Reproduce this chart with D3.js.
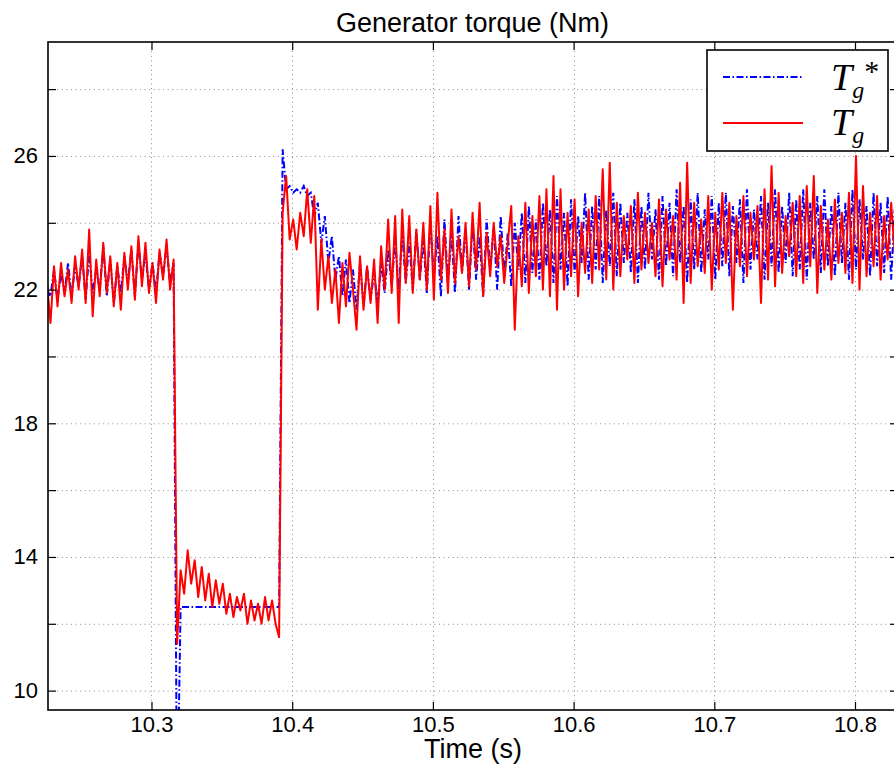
<!DOCTYPE html>
<html><head><meta charset="utf-8">
<script src="https://cdn.jsdelivr.net/npm/d3@7"></script>
<style>body{margin:0;background:#fff} svg{display:block}</style>
</head><body>
<script>
// sampling of the recorded signals
const t0 = 10.2257, dt = 0.0025;

// T_g* (reference torque)
const torqueRef = [
22.0,21.8,22.6,21.7,22.5,21.9,22.8,21.8,22.7,22.1,23.0,21.7,23.1,21.9,22.6,22.0,23.3,21.8,22.9,21.6,
22.7,21.9,23.0,22.2,23.2,21.8,23.4,22.3,23.1,22.0,22.8,21.9,23.1,22.4,23.3,22.2,22.8,
6.0,
12.5,12.5,12.5,12.5,12.5,12.5,12.5,12.5,12.5,12.5,12.5,12.5,12.5,12.5,12.5,12.5,12.5,12.5,12.5,12.5,
12.5,12.5,12.5,12.5,12.5,12.5,12.5,12.5,12.5,
26.2,25.0,25.1,24.9,25.0,24.9,25.1,24.8,24.9,24.2,
24.6,23.4,24.2,22.8,23.6,22.3,23.0,21.8,22.9,21.6,22.6,21.4,22.8,21.5,22.7,21.7,22.5,21.6,22.8,21.9,
23.2,22.1,23.5,22.0,23.7,22.2,23.4,22.0,23.8,22.3,23.5,21.9,24.0,22.4,23.6,21.8,24.1,22.2,23.7,21.9,
24.2,22.5,23.8,22.0,24.0,22.3,23.6,21.8,24.1,22.6,23.9,22.0,24.2,22.4,23.7,22.1,24.0,22.6,24.3,22.2,
24.5,22.5,24.1,22.3,24.6,22.7,24.4,22.2,24.8,22.6,24.3,22.1,24.7,22.5,24.2,22.8,24.9,22.3,24.5,22.6,
24.8,22.2,24.4,22.7,24.9,22.4,24.6,22.8,24.3,22.5,24.7,22.2,24.5,22.6,24.9,22.9,24.4,22.3,24.8,22.7,
24.6,22.4,25.0,22.8,24.5,22.2,24.7,22.6,24.9,22.5,24.4,22.9,24.8,22.3,24.6,22.7,24.9,22.4,24.5,22.8,
24.7,22.2,25.0,22.6,24.4,22.9,24.8,22.3,24.6,22.7,25.0,22.5,24.5,22.8,24.9,22.4,24.7,22.6,25.0,22.3,
24.6,22.9,24.8,22.5,25.0,22.7,24.5,22.4,24.9,22.8,24.6,22.3,25.0,22.6,24.7,22.9,24.5,22.4,24.9,22.7,
24.6,22.5,24.8,22.3,24.4
];

// T_g (generator torque)
const torqueGen = [
22.2,21.0,22.7,21.5,22.8,21.8,22.6,21.6,23.0,22.0,23.2,21.6,23.8,21.2,22.9,21.8,23.4,21.9,23.0,21.5,
22.8,21.4,23.1,22.0,23.3,21.7,23.6,22.1,23.4,21.9,22.8,21.6,23.2,22.3,23.5,22.0,22.9,
11.4,
13.6,12.9,14.2,13.2,13.9,12.8,13.7,12.7,13.5,12.5,13.3,12.6,13.2,12.3,12.9,12.2,12.8,12.4,12.9,12.0,
12.7,12.1,12.6,12.0,12.8,12.1,12.7,12.0,11.6,
24.3,25.4,23.5,24.1,23.2,24.3,23.6,25.0,23.4,24.8,
21.4,23.5,22.0,23.0,21.6,22.6,21.0,22.8,21.5,23.1,22.0,20.8,23.0,21.4,22.7,21.6,22.9,21.0,23.3,22.0,
24.1,21.9,24.2,21.0,24.4,22.2,24.2,21.9,23.8,22.3,24.0,22.0,24.5,21.7,24.9,22.3,23.8,21.9,24.4,22.2,
23.6,22.5,24.0,22.1,24.3,22.6,24.6,21.8,23.7,22.4,24.0,22.7,23.6,22.2,23.4,24.5,20.8,23.6,22.1,24.6,
21.9,24.2,22.4,24.8,22.0,25.0,21.8,25.4,21.4,25.0,22.0,24.3,22.4,24.7,21.8,24.0,22.5,24.4,22.2,24.8,
22.6,25.6,22.3,25.8,22.0,24.6,22.4,24.2,22.9,24.5,22.2,24.9,22.6,24.3,22.8,24.0,22.4,24.7,22.1,24.4,
22.9,24.2,22.3,25.2,21.6,25.8,22.2,24.6,22.7,24.1,22.5,24.8,22.0,24.3,22.6,24.9,22.8,24.6,21.4,24.2,
22.7,24.8,22.4,24.3,22.9,24.5,21.6,25.0,22.3,25.7,22.1,24.9,22.5,24.2,23.0,24.6,22.4,24.8,22.2,25.1,
22.7,25.4,21.9,24.5,22.6,24.1,22.3,24.7,22.8,24.3,22.5,24.9,22.2,26.0,22.0,25.1,22.4,24.3,22.7,24.8,
22.3,24.2,22.9,24.6,23.1
];

const xTicks = [10.3, 10.4, 10.5, 10.6, 10.7, 10.8];
const yTicks = [10, 12, 14, 16, 18, 20, 22, 24, 26, 28];
const yLabels = [10, 14, 18, 22, 26];
const titleText = "Generator torque (Nm)";
const xLabelText = "Time (s)";

const W = 894, H = 767;
const L = 48, T = 42, R = 898, B = 710;

const svg = d3.select("body").append("svg").attr("width", W).attr("height", H)
  .style("font-family", "'Liberation Sans', Arial, sans-serif");

const x = d3.scaleLinear().domain([10.22644, 10.83056]).range([L, R]);
const y = d3.scaleLinear().domain([9.42, 29.41]).range([B, T]);

svg.append("defs").append("clipPath").attr("id", "clip")
  .append("rect").attr("x", L).attr("y", T).attr("width", R - L).attr("height", B - T);

// grid
const grid = svg.append("g").attr("stroke", "#8a8a8a").attr("stroke-width", 1)
  .attr("stroke-dasharray", "1,3.6");
grid.selectAll("line.h").data(yTicks).join("line").attr("class", "h")
  .attr("x1", L).attr("x2", R).attr("y1", d => y(d) + 0.5).attr("y2", d => y(d) + 0.5);
grid.selectAll("line.v").data(xTicks).join("line").attr("class", "v")
  .attr("y1", T).attr("y2", B).attr("x1", d => Math.round(x(d)) + 0.5).attr("x2", d => Math.round(x(d)) + 0.5);

// data
const pts = arr => arr.map((v, i) => [t0 + i * dt, v]);
const line = d3.line().x(d => x(d[0])).y(d => y(d[1]));
const plot = svg.append("g").attr("clip-path", "url(#clip)");
plot.append("path").attr("d", line(pts(torqueRef))).attr("fill", "none")
  .attr("stroke", "#0000ff").attr("stroke-width", 2).attr("stroke-dasharray", "7,2.5,1.5,2.5");
plot.append("path").attr("d", line(pts(torqueGen))).attr("fill", "none")
  .attr("stroke", "#ff0000").attr("stroke-width", 2).attr("stroke-linejoin", "round");

// axes
const fmtY = d => yLabels.includes(d) ? String(d) : "";
const axL = svg.append("g").attr("transform", `translate(${L},0)`)
  .call(d3.axisLeft(y).tickValues(yTicks).tickSizeInner(-8).tickSizeOuter(0).tickPadding(10).tickFormat(fmtY));
const axR = svg.append("g").attr("transform", `translate(${R},0)`)
  .call(d3.axisRight(y).tickValues(yTicks).tickSizeInner(-8).tickSizeOuter(0).tickFormat(""));
const axB = svg.append("g").attr("transform", `translate(0,${B})`)
  .call(d3.axisBottom(x).tickValues(xTicks).tickSizeInner(-8).tickSizeOuter(0).tickPadding(6).tickFormat(d3.format(".1f")));
const axT = svg.append("g").attr("transform", `translate(0,${T})`)
  .call(d3.axisTop(x).tickValues(xTicks).tickSizeInner(-8).tickSizeOuter(0).tickFormat(""));
[axL, axR, axB, axT].forEach(g => {
  g.select(".domain").remove();
  g.selectAll(".tick line").attr("stroke", "#000").attr("stroke-width", 1.2);
  g.selectAll(".tick text").attr("font-size", 22).attr("fill", "#000")
    .attr("font-family", "'Liberation Sans', Arial, sans-serif");
});
svg.append("rect").attr("x", L).attr("y", T).attr("width", R - L).attr("height", B - T)
  .attr("fill", "none").attr("stroke", "#000").attr("stroke-width", 1.6);

// titles
svg.append("text").attr("x", 472.5).attr("y", 31.5).attr("text-anchor", "middle")
  .attr("font-size", 27).text(titleText);
svg.append("text").attr("x", 473).attr("y", 758).attr("text-anchor", "middle")
  .attr("font-size", 27).text(xLabelText);

// legend
const lg = svg.append("g");
lg.append("rect").attr("x", 707).attr("y", 50).attr("width", 181).attr("height", 101)
  .attr("fill", "#fff").attr("stroke", "#000").attr("stroke-width", 1.6);
lg.append("line").attr("x1", 723).attr("x2", 803).attr("y1", 77).attr("y2", 77)
  .attr("stroke", "#0000ff").attr("stroke-width", 2).attr("stroke-dasharray", "7,2.5,1.5,2.5");
lg.append("line").attr("x1", 723).attr("x2", 803).attr("y1", 123).attr("y2", 123)
  .attr("stroke", "#ff0000").attr("stroke-width", 2);
const serif = "'Liberation Serif', 'Times New Roman', serif";
const sym = (yb, star) => {
  const t = lg.append("text").attr("x", 831).attr("y", yb).attr("font-family", serif);
  t.append("tspan").attr("font-style", "italic").attr("font-size", 38).text("T");
  t.append("tspan").attr("font-style", "italic").attr("font-size", 24).attr("dy", 8).text("g");
  if (star) t.append("tspan").attr("font-size", 30).attr("dx", 0).attr("dy", -17).text("*");
};
sym(89.5, true);
sym(135, false);
</script>
</body></html>
